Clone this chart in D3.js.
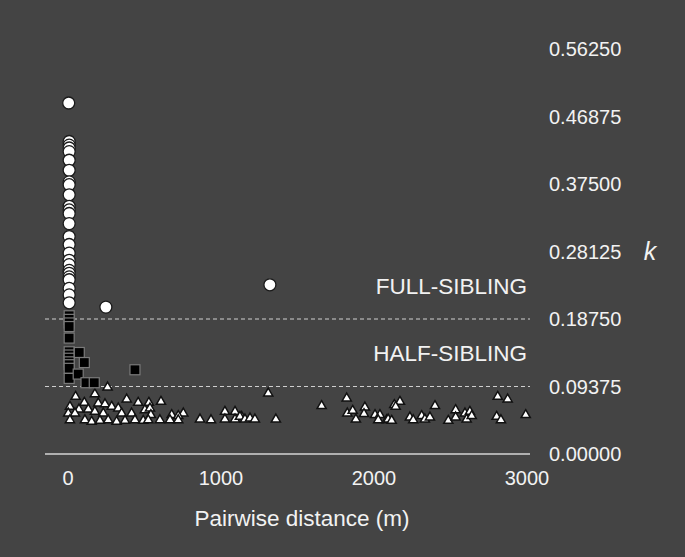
<!DOCTYPE html>
<html>
<head>
<meta charset="utf-8">
<script src="https://cdn.jsdelivr.net/npm/d3@7"></script>
<style>
  body { margin: 0; background: #444444; }
  svg { display: block; }
  text { font-family: "Liberation Sans", Arial, sans-serif; fill: #f2f2f2; }
</style>
</head>
<body>
<svg width="685" height="557"></svg>
<script>
// full-sibling pairs (distance m, k)
var FULL_DIST = [5, 8, 8, 8, 8, 8, 8, 8, 8, 8, 8, 8, 8, 8, 8, 8, 8, 8, 8, 8, 8, 8, 8, 8, 8, 8, 248, 1320];
var FULL_K = [0.4875, 0.434, 0.429, 0.425, 0.420, 0.408, 0.394, 0.378, 0.374, 0.360, 0.344, 0.339, 0.334, 0.320, 0.302, 0.291, 0.279, 0.269, 0.263, 0.255, 0.251, 0.246, 0.242, 0.230, 0.221, 0.210, 0.204, 0.235];

// half-sibling pairs
var HALF_DIST = [8, 8, 8, 8, 8, 8, 8, 8, 8, 8, 8, 8, 74, 107, 67, 118, 172, 438];
var HALF_K = [0.192, 0.187, 0.182, 0.177, 0.161, 0.142, 0.1375, 0.133, 0.128, 0.124, 0.119, 0.105, 0.141, 0.127, 0.111, 0.099, 0.099, 0.117];

// unrelated pairs
var UNREL_DIST = [259, 50, 176, 107, 384, 459, 13, 72, 133, 198, 242, 286, 329, 2, 46, 176, 231, 351, 416, 503,
  13, 111, 155, 209, 263, 318, 373, 438, 492, 608, 529, 536, 754, 678, 721, 542, 525, 601, 667, 721,
  863, 935, 1026, 1092, 1026, 1092, 1135, 1309, 1124, 1157, 1190, 1222, 1359, 1658, 1822, 1826, 1861, 1882, 1941, 1935,
  2007, 2039, 2028, 2083, 2170, 2133, 2142, 2399, 2093, 2116, 2235, 2257, 2312, 2333, 2366, 2486, 2534, 2534, 2595, 2627,
  2606, 2639, 2809, 2874, 2802, 2830, 2992];
var UNREL_K = [0.0926, 0.0796, 0.0833, 0.0713, 0.0760, 0.0713, 0.0657, 0.0621, 0.0621, 0.0704, 0.0694, 0.0657, 0.0635, 0.0565, 0.0565, 0.0588, 0.0565, 0.0565, 0.0565, 0.0611,
  0.0472, 0.0472, 0.0449, 0.0463, 0.0472, 0.0449, 0.0463, 0.0472, 0.0463, 0.0726, 0.0713, 0.0635, 0.0565, 0.0542, 0.0528, 0.0542, 0.0472, 0.0472, 0.0472, 0.0472,
  0.0482, 0.0472, 0.0588, 0.0588, 0.0482, 0.0482, 0.0518, 0.0843, 0.0518, 0.0482, 0.0496, 0.0482, 0.0482, 0.0667, 0.0774, 0.0565, 0.0601, 0.0482, 0.0649, 0.0556,
  0.0542, 0.0542, 0.0472, 0.0472, 0.0726, 0.0681, 0.0657, 0.0667, 0.0482, 0.0463, 0.0510, 0.0472, 0.0528, 0.0482, 0.0510, 0.0463, 0.0611, 0.0510, 0.0565, 0.0588,
  0.0482, 0.0528, 0.0796, 0.0760, 0.0518, 0.0472, 0.0542];

var X_TICKS = [0, 1000, 2000, 3000];
var K_TICKS = [0, 0.09375, 0.1875, 0.28125, 0.375, 0.46875, 0.5625];
var THRESHOLDS = [0.09375, 0.1875];

var svg = d3.select("svg");

var x = d3.scaleLinear().domain([-150, 3020]).range([45, 530]);
var y = d3.scaleLinear().domain([0, 0.5625]).range([454, 49]);

function pairs(a, b) { return a.map(function(d, i) { return {d: d, k: b[i]}; }); }

// bottom axis line
svg.append("line")
  .attr("x1", x(-150)).attr("x2", x(3020))
  .attr("y1", y(0)).attr("y2", y(0))
  .attr("stroke", "#d4d4d4").attr("stroke-width", 1.5);

// threshold dashed lines
svg.selectAll(".thr").data(THRESHOLDS).enter().append("line")
  .attr("class", "thr")
  .attr("x1", x(-150)).attr("x2", x(3020))
  .attr("y1", function(d) { return y(d); }).attr("y2", function(d) { return y(d); })
  .attr("stroke", "#cfcfcf").attr("stroke-width", 1.2)
  .attr("stroke-dasharray", "4,3");

// right-side k ticks
svg.selectAll(".ktick").data(K_TICKS).enter().append("text")
  .attr("class", "ktick")
  .attr("x", 549)
  .attr("y", function(d) { return y(d); })
  .attr("dy", "0.35em")
  .attr("font-size", 20)
  .text(d3.format(".5f"));

// x ticks
svg.selectAll(".xtick").data(X_TICKS).enter().append("text")
  .attr("class", "xtick")
  .attr("x", function(d) { return x(d); })
  .attr("y", 478)
  .attr("dy", "0.35em")
  .attr("text-anchor", "middle")
  .attr("font-size", 20)
  .text(function(d) { return d; });

svg.append("text")
  .attr("x", 302).attr("y", 526)
  .attr("text-anchor", "middle")
  .attr("font-size", 22.5)
  .text("Pairwise distance (m)");

svg.append("text")
  .attr("x", 650).attr("y", 251)
  .attr("dy", "0.35em")
  .attr("text-anchor", "middle")
  .attr("font-size", 25)
  .attr("font-style", "italic")
  .text("k");

svg.append("text")
  .attr("x", 527).attr("y", 294)
  .attr("text-anchor", "end")
  .attr("font-size", 22.5)
  .text("FULL-SIBLING");

svg.append("text")
  .attr("x", 527).attr("y", 361)
  .attr("text-anchor", "end")
  .attr("font-size", 22.5)
  .text("HALF-SIBLING");

// triangles
var tri = d3.symbol().type(d3.symbolTriangle).size(36);
svg.append("g").selectAll("path").data(pairs(UNREL_DIST, UNREL_K)).enter().append("path")
  .attr("d", tri)
  .attr("transform", function(p) { return "translate(" + x(p.d) + "," + y(p.k) + ")"; })
  .attr("fill", "#ffffff").attr("stroke", "#111").attr("stroke-width", 1.5);

// squares
svg.append("g").selectAll("rect").data(pairs(HALF_DIST, HALF_K)).enter().append("rect")
  .attr("x", function(p) { return x(p.d) - 5; })
  .attr("y", function(p) { return y(p.k) - 5; })
  .attr("width", 10).attr("height", 10)
  .attr("fill", "#000").attr("stroke", "#7a7a7a").attr("stroke-width", 1.2);

// circles
svg.append("g").selectAll("circle").data(pairs(FULL_DIST, FULL_K)).enter().append("circle")
  .attr("cx", function(p) { return x(p.d); })
  .attr("cy", function(p) { return y(p.k); })
  .attr("r", 6)
  .attr("fill", "#ffffff").attr("stroke", "#1a1a1a").attr("stroke-width", 1.3);
</script>
</body>
</html>
